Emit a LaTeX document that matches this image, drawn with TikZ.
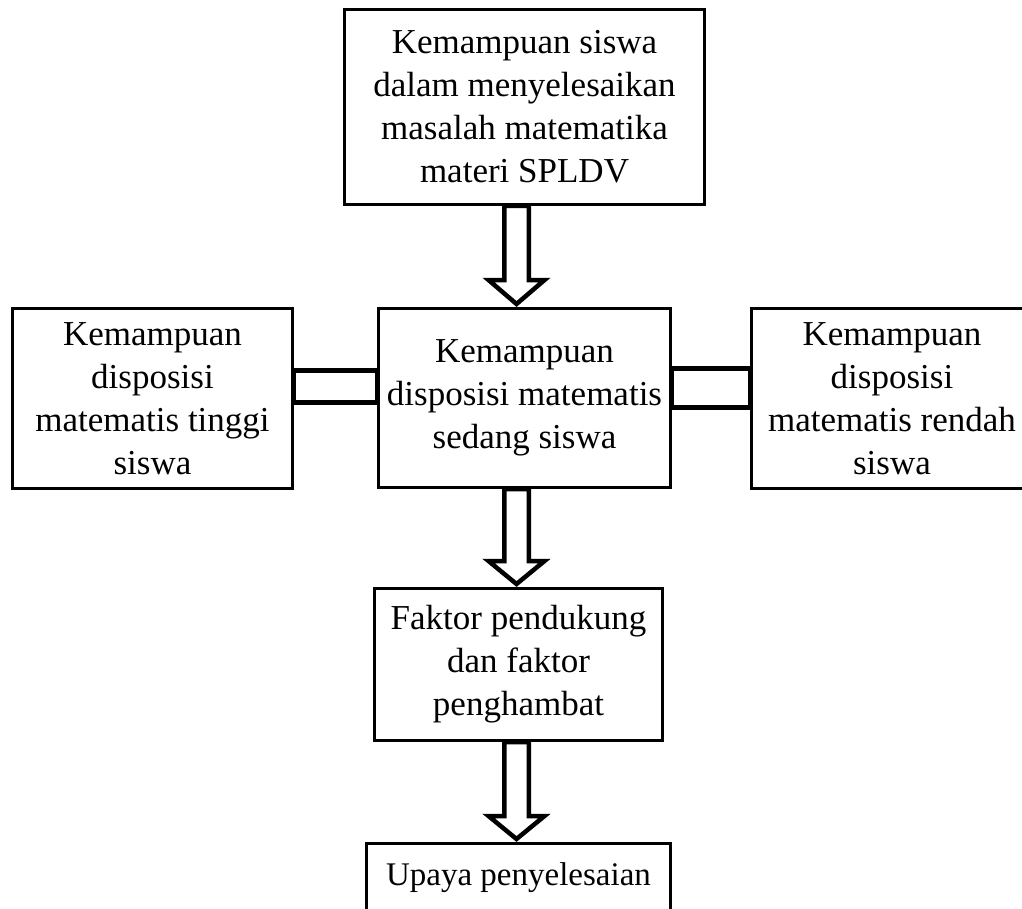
\documentclass[tikz,border=0pt]{standalone}
\usepackage{fontspec}
\setmainfont{Liberation Serif}
\usetikzlibrary{calc}
\newcommand{\blockarr}[3]{%
  \draw[arrowline] let \p1=(#1), \p2=(#2) in
    (\x1-12.25pt,\y1) -- (\x1-12.25pt,\y2+#3) -- (\x1-28pt,\y2+#3) --
    (\x1,\y2+3pt) -- (\x1+28pt,\y2+#3) -- (\x1+12.25pt,\y2+#3) --
    (\x1+12.25pt,\y1) -- cycle;}
\begin{document}
\begin{tikzpicture}[x=1pt,y=-1pt,
  box/.style={draw,line width=3pt,align=center,inner sep=0pt,
    font=\fontsize{35}{43}\selectfont},
  arrowline/.style={draw,line width=4.5pt,line join=miter},
  barline/.style={draw,line width=4.5pt}]
\useasboundingbox (0,0) rectangle (1022,909);
\clip (0,0) rectangle (1022,909);
\node[box,minimum width=360pt,minimum height=195pt] (T) at (524.5,107)
  {Kemampuan siswa\\dalam menyelesaikan\\masalah matematika\\materi SPLDV};
\node[box,minimum width=280pt,minimum height=180pt] (L) at (152.5,398.5)
  {Kemampuan\\disposisi\\matematis tinggi\\siswa};
\node[box,minimum width=292pt,minimum height=179pt] (M) at (524.5,398)
  {Kemampuan\\disposisi matematis\\sedang siswa};
\node[box,minimum width=281pt,minimum height=180pt] (R) at (892,398.5)
  {Kemampuan\\disposisi\\matematis rendah\\siswa};
\node[box,minimum width=288pt,minimum height=152pt] (F) at (518.5,664.5)
  {Faktor pendukung\\dan faktor\\penghambat};
\node[box,minimum width=304pt,minimum height=80pt,
  font=\fontsize{33}{43}\selectfont,text height=20pt,text depth=17pt]
  (U) at (518.5,883.5) {Upaya penyelesaian};
\coordinate (ax) at (516.5,0);
\blockarr{ax |- T.south}{ax |- M.north}{27pt}
\blockarr{ax |- M.south}{ax |- F.north}{26pt}
\blockarr{ax |- F.south}{ax |- U.north}{26pt}
\draw[barline] ($(L.east)+(0,-28)$) rectangle ($(M.west)+(0,4.5)$);
\draw[barline] ($(M.east)+(0,-29.5)$) rectangle ($(R.west)+(0,9)$);
\end{tikzpicture}
\end{document}
